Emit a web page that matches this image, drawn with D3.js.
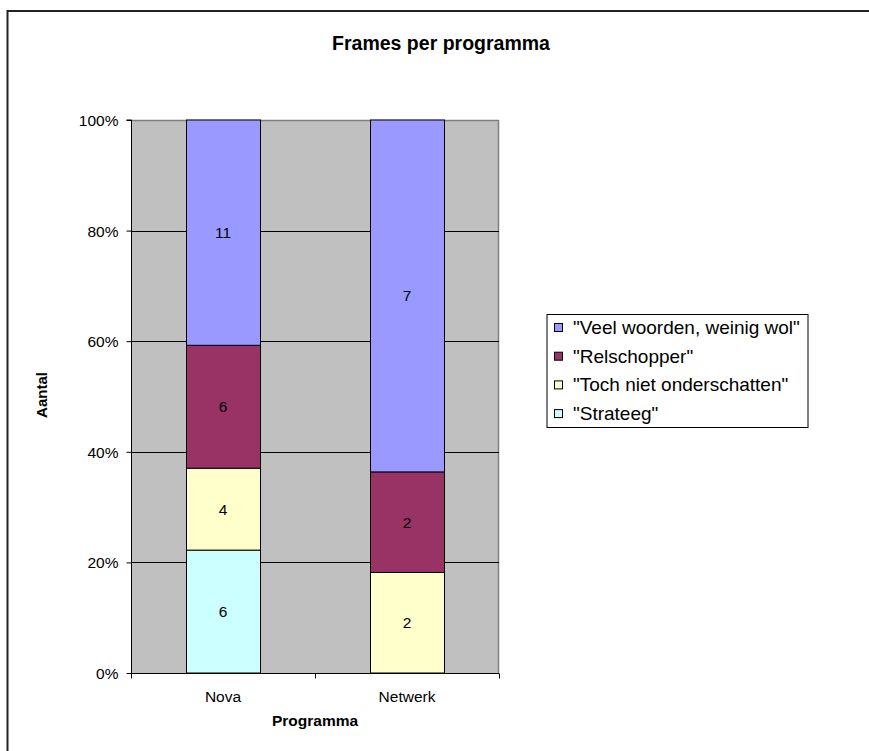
<!DOCTYPE html>
<html>
<head>
<meta charset="utf-8">
<script src="https://cdn.jsdelivr.net/npm/d3@7"></script>
<style>
  html, body { margin: 0; padding: 0; background: #fff; }
  svg { display: block; font-family: "Liberation Sans", Arial, sans-serif; }
</style>
</head>
<body>
<svg id="chart" width="869" height="751"></svg>
<script>
const categories = ["Nova", "Netwerk"];
const seriesNames = ['"Strateeg"', '"Toch niet onderschatten"', '"Relschopper"', '"Veel woorden, weinig wol"'];
const strateeg = [6, 0];
const tochNiet = [4, 2];
const relschopper = [6, 2];
const veelWoorden = [11, 7];
const seriesColors = ["#CCFFFF", "#FFFFCC", "#993366", "#9999FF"];
const yTicks = [0, 0.2, 0.4, 0.6, 0.8, 1.0];
const titleText = "Frames per programma";
const xTitle = "Programma";
const yTitle = "Aantal";

const svg = d3.select("#chart");

// outer frame
svg.append("rect").attr("x", 7.5).attr("y", 11).attr("width", 900).attr("height", 800)
  .attr("fill", "none").attr("stroke", "#222").attr("stroke-width", 2);

const plot = {left: 131, right: 499, top: 120, bottom: 673};

const x = d3.scaleBand().domain(categories).range([plot.left, plot.right]).paddingInner(0.6).paddingOuter(0.3);
const y = d3.scaleLinear().domain([0, 1]).range([plot.bottom, plot.top]);

// plot background
svg.append("rect").attr("x", plot.left).attr("y", plot.top)
  .attr("width", plot.right - plot.left).attr("height", plot.bottom - plot.top)
  .attr("fill", "#C0C0C0");
// top & right border gray
svg.append("path").attr("d", `M${plot.left},${plot.top + 0.5}H${plot.right - 0.5}V${plot.bottom}`)
  .attr("fill", "none").attr("stroke", "#808080").attr("stroke-width", 1.5);

// gridlines
svg.append("g").selectAll("line").data(yTicks.filter(t => t > 0 && t < 1)).join("line")
  .attr("x1", plot.left).attr("x2", plot.right)
  .attr("y1", d => Math.round(y(d)) + 0.5).attr("y2", d => Math.round(y(d)) + 0.5)
  .attr("stroke", "#000").attr("stroke-width", 1);

// stacked data
const table = categories.map((c, i) => ({
  cat: c,
  [seriesNames[0]]: strateeg[i],
  [seriesNames[1]]: tochNiet[i],
  [seriesNames[2]]: relschopper[i],
  [seriesNames[3]]: veelWoorden[i]
}));
const stacked = d3.stack().keys(seriesNames).offset(d3.stackOffsetExpand)(table);

const bw = x.bandwidth();
const layers = svg.append("g").selectAll("g").data(stacked).join("g")
  .attr("fill", (d, i) => seriesColors[i]);
layers.selectAll("rect").data(d => d.filter(p => p[1] - p[0] > 0)).join("rect")
  .attr("x", d => Math.round(x(d.data.cat)) + 0.5)
  .attr("width", Math.round(bw))
  .attr("y", d => y(d[1]))
  .attr("height", d => y(d[0]) - y(d[1]))
  .attr("stroke", "#000").attr("stroke-width", 1);

// data labels
svg.append("g").selectAll("g").data(stacked).join("g")
  .selectAll("text").data(d => d.filter(p => p[1] - p[0] > 0).map(p => ({p, key: d.key})))
  .join("text")
  .attr("x", d => x(d.p.data.cat) + bw / 2)
  .attr("y", d => (y(d.p[0]) + y(d.p[1])) / 2 + 5.5)
  .attr("text-anchor", "middle")
  .attr("font-size", 15.5)
  .attr("fill", "#000")
  .text(d => d.p.data[d.key]);

// y axis
const yAxis = d3.axisLeft(y).tickValues(yTicks).tickFormat(d3.format(".0%")).tickSize(5).tickPadding(8);
const gy = svg.append("g").attr("transform", `translate(${plot.left + 0.5},0)`).call(yAxis);
gy.select(".domain").attr("stroke", "#000").attr("d", `M-5,${plot.top}H0V${plot.bottom}`);
gy.selectAll(".tick text").attr("font-size", 15.5).attr("font-family", "Liberation Sans, Arial, sans-serif").attr("fill", "#000").attr("dy", "0.36em");
gy.selectAll(".tick line").attr("stroke", "#000");

// x axis
const xEdges = d3.scalePoint().domain(d3.range(categories.length + 1)).range([plot.left, plot.right]);
const gx = svg.append("g").attr("transform", `translate(0,${plot.bottom + 0.5})`);
gx.append("line").attr("x1", plot.left).attr("x2", plot.right).attr("stroke", "#000");
gx.selectAll("line.tk").data(d3.range(categories.length + 1)).join("line").attr("class", "tk")
  .attr("x1", d => Math.round(xEdges(d)) + 0.5).attr("x2", d => Math.round(xEdges(d)) + 0.5)
  .attr("y1", 0).attr("y2", 5).attr("stroke", "#000");
gx.selectAll("text").data(categories).join("text")
  .attr("x", d => x(d) + bw / 2).attr("y", 28)
  .attr("text-anchor", "middle").attr("font-size", 15.5).attr("fill", "#000")
  .text(d => d);

// titles
svg.append("text").attr("x", 441).attr("y", 50).attr("text-anchor", "middle")
  .attr("font-size", 19.5).attr("font-weight", "bold").text(titleText);
svg.append("text").attr("x", (plot.left + plot.right) / 2).attr("y", 726).attr("text-anchor", "middle")
  .attr("font-size", 15.5).attr("font-weight", "bold").text(xTitle);
svg.append("text").attr("transform", "translate(47,395) rotate(-90)").attr("text-anchor", "middle")
  .attr("font-size", 15).attr("font-weight", "bold").text(yTitle);

// legend
const lg = svg.append("g");
lg.append("rect").attr("x", 547).attr("y", 314.5).attr("width", 261).attr("height", 113)
  .attr("fill", "#fff").attr("stroke", "#000").attr("stroke-width", 1);
const legendOrder = seriesNames.map((n, i) => ({n, c: seriesColors[i]})).reverse();
const rows = lg.selectAll("g").data(legendOrder).join("g")
  .attr("transform", (d, i) => `translate(554,${334 + i * 28.7})`);
rows.append("rect").attr("x", 0.5).attr("y", -10.5).attr("width", 8).attr("height", 8)
  .attr("fill", d => d.c).attr("stroke", "#000");
rows.append("text").attr("x", 19).attr("y", 0).attr("font-size", 19).attr("fill", "#000").text(d => d.n);
</script>
</body>
</html>
